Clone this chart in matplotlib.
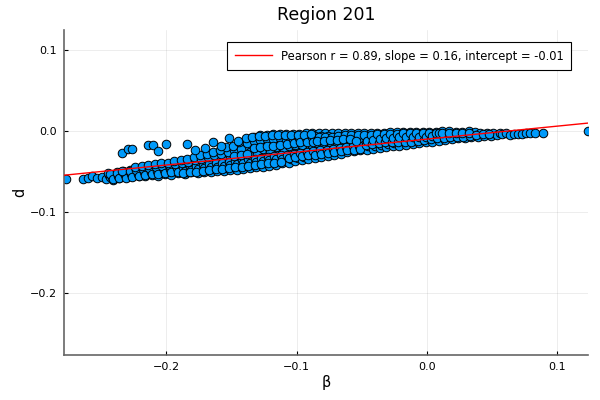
import numpy as np
import matplotlib
matplotlib.use("Agg")
import matplotlib.pyplot as plt

# --- data ---
beta_tail = [-0.2770, -0.264, -0.260, -0.257, -0.253, -0.249]
d_tail = [-0.059, -0.059, -0.058, -0.056, -0.058, -0.057]

beta_out = [-0.234, -0.229, -0.226, -0.214, -0.210, -0.206, -0.200, -0.184,
            -0.170, -0.164, -0.152, -0.158, -0.145, -0.178]
d_out = [-0.027, -0.022, -0.022, -0.017, -0.017, -0.025, -0.016, -0.016,
         -0.021, -0.014, -0.009, -0.019, -0.012, -0.024]

beta_main = [
    -0.246, -0.244, -0.243, -0.245,
    -0.241, -0.239, -0.238, -0.240,
    -0.236, -0.234, -0.233, -0.235,
    -0.231, -0.229, -0.228, -0.230, -0.232,
    -0.226, -0.224, -0.223, -0.225,
    -0.221, -0.219, -0.218, -0.220, -0.222,
    -0.216, -0.214, -0.213, -0.215, -0.217,
    -0.211, -0.209, -0.208, -0.210, -0.212,
    -0.206, -0.204, -0.203, -0.205, -0.207,
    -0.201, -0.199, -0.198, -0.200, -0.202,
    -0.196, -0.194, -0.193, -0.195, -0.197,
    -0.191, -0.189, -0.188, -0.190, -0.192, -0.189,
    -0.186, -0.184, -0.183, -0.185, -0.187, -0.184,
    -0.181, -0.179, -0.178, -0.180, -0.182, -0.179,
    -0.176, -0.174, -0.173, -0.175, -0.177, -0.174,
    -0.171, -0.169, -0.168, -0.170, -0.172, -0.169,
    -0.166, -0.164, -0.163, -0.165, -0.167, -0.164, -0.166,
    -0.161, -0.159, -0.158, -0.160, -0.162, -0.159, -0.161,
    -0.156, -0.154, -0.153, -0.155, -0.157, -0.154, -0.156,
    -0.151, -0.149, -0.148, -0.150, -0.152, -0.149, -0.151,
    -0.146, -0.144, -0.143, -0.145, -0.147, -0.144, -0.146, -0.143,
    -0.141, -0.139, -0.138, -0.140, -0.142, -0.139, -0.141, -0.138,
    -0.136, -0.134, -0.133, -0.135, -0.137, -0.134, -0.136, -0.133, -0.135,
    -0.131, -0.129, -0.128, -0.130, -0.132, -0.129, -0.131, -0.128, -0.130,
    -0.126, -0.124, -0.123, -0.125, -0.127, -0.124, -0.126, -0.123, -0.125,
    -0.121, -0.119, -0.118, -0.120, -0.122, -0.119, -0.121, -0.118, -0.120,
    -0.116, -0.114, -0.113, -0.115, -0.117, -0.114, -0.116, -0.113, -0.115,
    -0.111, -0.109, -0.108, -0.110, -0.112, -0.109, -0.111, -0.108, -0.110,
    -0.106, -0.104, -0.103, -0.105, -0.107, -0.104, -0.106, -0.103,
    -0.101, -0.099, -0.098, -0.100, -0.102, -0.099, -0.101, -0.098,
    -0.096, -0.094, -0.093, -0.095, -0.097, -0.094, -0.096, -0.093,
    -0.091, -0.089, -0.088, -0.090, -0.092, -0.089, -0.091,
    -0.086, -0.084, -0.083, -0.085, -0.087, -0.084, -0.086,
    -0.081, -0.079, -0.078, -0.080, -0.082, -0.079, -0.081,
    -0.076, -0.074, -0.073, -0.075, -0.077, -0.074, -0.076,
    -0.071, -0.069, -0.068, -0.070, -0.072, -0.069,
    -0.066, -0.064, -0.063, -0.065, -0.067, -0.064,
    -0.061, -0.059, -0.058, -0.060, -0.062, -0.059,
    -0.056, -0.054, -0.053, -0.055, -0.057, -0.054,
    -0.051, -0.049, -0.048, -0.050, -0.052,
    -0.046, -0.044, -0.043, -0.045, -0.047,
    -0.041, -0.039, -0.038, -0.040, -0.042,
    -0.036, -0.034, -0.033, -0.035, -0.037,
    -0.031, -0.029, -0.028, -0.030, -0.032,
    -0.026, -0.024, -0.023, -0.025, -0.027,
    -0.021, -0.019, -0.018, -0.020,
    -0.016, -0.014, -0.013, -0.015,
    -0.011, -0.009, -0.008, -0.010,
    -0.006, -0.004, -0.003, -0.005,
    -0.001, 0.001, 0.002, 0.000,
    0.004, 0.006, 0.007, 0.005,
    0.009, 0.011, 0.012,
    0.014, 0.016, 0.017,
    0.019, 0.021, 0.022,
    0.024, 0.026, 0.027,
    0.029, 0.031, 0.032,
    0.034, 0.036, 0.037,
    0.039, 0.041,
    0.044, 0.046,
    0.049, 0.051,
    0.054, 0.056,
]
d_main = [
    -0.059, -0.054, -0.057, -0.052,
    -0.060, -0.055, -0.051, -0.057,
    -0.058, -0.053, -0.049, -0.056,
    -0.057, -0.052, -0.048, -0.055, -0.050,
    -0.056, -0.051, -0.047, -0.054,
    -0.056, -0.050, -0.046, -0.053, -0.048,
    -0.055, -0.049, -0.044, -0.052, -0.047,
    -0.054, -0.048, -0.043, -0.051, -0.046,
    -0.055, -0.047, -0.042, -0.050, -0.045,
    -0.053, -0.046, -0.041, -0.050, -0.044,
    -0.054, -0.045, -0.040, -0.049, -0.043,
    -0.052, -0.044, -0.039, -0.048, -0.042, -0.050,
    -0.053, -0.043, -0.038, -0.047, -0.041, -0.050,
    -0.051, -0.042, -0.036, -0.046, -0.039, -0.049,
    -0.052, -0.041, -0.034, -0.045, -0.037, -0.048,
    -0.050, -0.040, -0.032, -0.044, -0.035, -0.047,
    -0.050, -0.039, -0.030, -0.043, -0.034, -0.046, -0.036,
    -0.049, -0.038, -0.028, -0.042, -0.032, -0.045, -0.035,
    -0.049, -0.037, -0.025, -0.041, -0.030, -0.045, -0.033,
    -0.048, -0.036, -0.022, -0.040, -0.028, -0.044, -0.031,
    -0.048, -0.035, -0.020, -0.039, -0.026, -0.043, -0.030, -0.024,
    -0.047, -0.034, -0.016, -0.038, -0.024, -0.042, -0.028, -0.020,
    -0.046, -0.033, -0.007, -0.037, -0.020, -0.041, -0.026, -0.013, -0.030,
    -0.045, -0.032, -0.005, -0.036, -0.018, -0.040, -0.024, -0.010, -0.028,
    -0.044, -0.031, -0.005, -0.035, -0.017, -0.039, -0.022, -0.009, -0.013,
    -0.043, -0.030, -0.004, -0.034, -0.016, -0.038, -0.021, -0.008, -0.026,
    -0.042, -0.029, -0.004, -0.033, -0.015, -0.037, -0.020, -0.008, -0.011,
    -0.040, -0.028, -0.004, -0.032, -0.014, -0.036, -0.019, -0.007, -0.024,
    -0.039, -0.027, -0.004, -0.031, -0.013, -0.035, -0.018, -0.008,
    -0.037, -0.026, -0.004, -0.030, -0.012, -0.033, -0.017, -0.008,
    -0.036, -0.025, -0.003, -0.029, -0.012, -0.032, -0.017, -0.007,
    -0.034, -0.024, -0.003, -0.028, -0.011, -0.016, -0.007,
    -0.033, -0.023, -0.003, -0.027, -0.010, -0.015, -0.006,
    -0.032, -0.022, -0.003, -0.026, -0.010, -0.015, -0.006,
    -0.031, -0.021, -0.003, -0.025, -0.009, -0.014, -0.006,
    -0.029, -0.020, -0.003, -0.024, -0.009, -0.013,
    -0.028, -0.019, -0.002, -0.023, -0.008, -0.013,
    -0.026, -0.018, -0.002, -0.022, -0.008, -0.012,
    -0.025, -0.017, -0.002, -0.021, -0.007, -0.011,
    -0.024, -0.016, -0.002, -0.020, -0.009,
    -0.023, -0.015, -0.002, -0.019, -0.008,
    -0.022, -0.014, -0.002, -0.018, -0.008,
    -0.021, -0.013, -0.002, -0.017, -0.007,
    -0.020, -0.012, -0.001, -0.016, -0.007,
    -0.019, -0.012, -0.001, -0.015, -0.006,
    -0.018, -0.011, -0.001, -0.006,
    -0.017, -0.010, -0.001, -0.005,
    -0.016, -0.010, -0.001, -0.005,
    -0.015, -0.009, -0.001, -0.005,
    -0.014, -0.008, -0.001, -0.004,
    -0.013, -0.008, -0.001, -0.004,
    -0.012, -0.006, 0.000,
    -0.011, -0.006, 0.000,
    -0.010, -0.005, -0.001,
    -0.009, -0.005, -0.001,
    -0.009, -0.004, 0.000,
    -0.008, -0.004, -0.001,
    -0.007, -0.002,
    -0.006, -0.002,
    -0.006, -0.003,
    -0.005, -0.002,
]

# points lying between the columns above
beta_fill = [
    -0.242, -0.243, -0.241,
    -0.237, -0.238, -0.236,
    -0.232, -0.233, -0.231, -0.234,
    -0.227, -0.228, -0.226,
    -0.222, -0.223, -0.221, -0.224,
    -0.217, -0.218, -0.216, -0.219,
    -0.212, -0.213, -0.211, -0.214,
    -0.207, -0.208, -0.206, -0.209,
    -0.202, -0.203, -0.201, -0.204,
    -0.197, -0.198, -0.196, -0.199,
    -0.192, -0.193, -0.191, -0.194,
    -0.187, -0.188, -0.186, -0.189, -0.187,
    -0.182, -0.183, -0.181, -0.184, -0.182,
    -0.177, -0.178, -0.176, -0.179, -0.177,
    -0.172, -0.173, -0.171, -0.174, -0.172,
    -0.167, -0.168, -0.166, -0.169, -0.167,
    -0.162, -0.163, -0.161, -0.164, -0.162,
    -0.157, -0.158, -0.156, -0.159, -0.157,
    -0.152, -0.153, -0.151, -0.154, -0.152,
    -0.147, -0.148, -0.146, -0.149, -0.147, -0.148,
    -0.142, -0.143, -0.141, -0.144, -0.142, -0.143,
    -0.137, -0.138, -0.136, -0.139, -0.137, -0.138,
    -0.132, -0.133, -0.131, -0.134, -0.132, -0.133,
    -0.127, -0.128, -0.126, -0.129, -0.127, -0.128,
    -0.122, -0.123, -0.121, -0.124, -0.122, -0.123,
    -0.117, -0.118, -0.116, -0.119, -0.117, -0.118,
    -0.112, -0.113, -0.111, -0.114, -0.112, -0.113,
    -0.107, -0.108, -0.106, -0.109, -0.107,
    -0.102, -0.103, -0.101, -0.104, -0.102,
    -0.097, -0.098, -0.096, -0.099, -0.097,
    -0.092, -0.093, -0.091, -0.094, -0.092,
    -0.087, -0.088, -0.086, -0.089, -0.087,
    -0.082, -0.083, -0.081, -0.084,
    -0.077, -0.078, -0.076, -0.079,
    -0.072, -0.073, -0.071, -0.074,
    -0.067, -0.068, -0.066, -0.069,
    -0.062, -0.063, -0.061, -0.064,
    -0.057, -0.058, -0.056, -0.059,
    -0.052, -0.053, -0.051, -0.054,
    -0.047, -0.048, -0.046,
    -0.042, -0.043, -0.041,
    -0.037, -0.038, -0.036,
    -0.032, -0.033, -0.031,
    -0.027, -0.028, -0.026,
    -0.022, -0.023, -0.021,
    -0.017, -0.018, -0.016,
    -0.012, -0.013, -0.011,
    -0.007, -0.008, -0.006,
    -0.002, -0.003, -0.001,
    0.003, 0.002, 0.004,
    0.008, 0.007, 0.009,
    0.013, 0.012,
    0.018, 0.017,
    0.023, 0.022,
    0.028, 0.027,
    0.033, 0.032,
    0.038, 0.043, 0.048,
]
d_fill = [
    -0.0565, -0.0535, -0.059,
    -0.055, -0.0515, -0.0585,
    -0.0545, -0.051, -0.0575, -0.0495,
    -0.0535, -0.0495, -0.0565,
    -0.0525, -0.0485, -0.0555, -0.045,
    -0.051, -0.0465, -0.0545, -0.0435,
    -0.050, -0.0455, -0.0535, -0.0425,
    -0.049, -0.0445, -0.053, -0.041,
    -0.048, -0.0435, -0.0515, -0.040,
    -0.047, -0.042, -0.051, -0.039,
    -0.046, -0.041, -0.050, -0.037,
    -0.045, -0.040, -0.049, -0.036, -0.052,
    -0.044, -0.038, -0.048, -0.034, -0.051,
    -0.043, -0.036, -0.047, -0.032, -0.050,
    -0.042, -0.034, -0.046, -0.030, -0.049,
    -0.041, -0.032, -0.045, -0.028, -0.048,
    -0.040, -0.030, -0.044, -0.026, -0.047,
    -0.039, -0.028, -0.043, -0.023, -0.047,
    -0.038, -0.026, -0.042, -0.020, -0.046,
    -0.037, -0.024, -0.041, -0.018, -0.045, -0.031,
    -0.036, -0.022, -0.040, -0.013, -0.044, -0.030,
    -0.035, -0.015, -0.039, -0.009, -0.043, -0.028,
    -0.034, -0.012, -0.038, -0.007, -0.042, -0.021,
    -0.033, -0.011, -0.037, -0.006, -0.041, -0.020,
    -0.032, -0.010, -0.036, -0.006, -0.040, -0.019,
    -0.031, -0.010, -0.035, -0.005, -0.039, -0.018,
    -0.030, -0.009, -0.034, -0.005, -0.038, -0.017,
    -0.029, -0.010, -0.033, -0.005, -0.016,
    -0.028, -0.010, -0.032, -0.005, -0.015,
    -0.027, -0.009, -0.031, -0.005, -0.014,
    -0.026, -0.009, -0.030, -0.005, -0.014,
    -0.025, -0.008, -0.029, -0.004, -0.013,
    -0.024, -0.008, -0.028, -0.012,
    -0.023, -0.008, -0.027, -0.012,
    -0.022, -0.007, -0.026, -0.011,
    -0.021, -0.006, -0.025, -0.011,
    -0.020, -0.005, -0.024, -0.010,
    -0.019, -0.005, -0.023, -0.010,
    -0.018, -0.005, -0.022, -0.012,
    -0.017, -0.005, -0.012,
    -0.016, -0.005, -0.011,
    -0.015, -0.004, -0.010,
    -0.014, -0.004, -0.009,
    -0.013, -0.004, -0.009,
    -0.014, -0.004, -0.008,
    -0.013, -0.003, -0.008,
    -0.013, -0.003, -0.008,
    -0.012, -0.003, -0.007,
    -0.011, -0.003, -0.007,
    -0.010, -0.002, -0.006,
    -0.009, -0.003, -0.002,
    -0.009, -0.003,
    -0.008, -0.003,
    -0.007, -0.003,
    -0.007, -0.002,
    -0.006, -0.002,
    -0.005, -0.004, -0.004,
]

beta_right = [0.058, 0.061, 0.064, 0.067, 0.070, 0.073, 0.076, 0.079, 0.083, 0.089, 0.1237]
d_right = [-0.004, -0.003, -0.005, -0.004, -0.004, -0.004, -0.003, -0.003, -0.002, -0.002, 0.000]

pearson_r = 0.89
slope = 0.16
intercept = -0.01

beta = np.array(beta_tail + beta_main + beta_fill + beta_out + beta_right)
d = np.array(d_tail + d_main + d_fill + d_out + d_right)

xlim = (-0.2785, 0.1237)
ylim = (-0.2765, 0.1247)

fig = plt.figure(figsize=(6, 4), dpi=100)
ax = fig.add_axes([64 / 600, 1 - 355 / 400, 524 / 600, 325 / 400])

ax.scatter(beta, d, s=38, color="#009AFA", edgecolors="black", linewidths=0.7, zorder=2)
xs = np.array(xlim)
ax.plot(xs, slope * xs + intercept, color="red", lw=1.0, zorder=3,
        label=f"Pearson r = {pearson_r:.2f}, slope = {slope:.2f}, intercept = {intercept:.2f}")

ax.set_xlim(*xlim)
ax.set_ylim(*ylim)
ax.set_xticks([-0.2, -0.1, 0.0, 0.1])
ax.set_yticks([-0.2, -0.1, 0.0, 0.1])
ax.grid(True, color="black", alpha=0.1, lw=0.5)
ax.set_axisbelow(True)
for side in ["top", "right"]:
    ax.spines[side].set_visible(False)
for side in ["left", "bottom"]:
    ax.spines[side].set_color("0.4")
    ax.spines[side].set_linewidth(1.2)
ax.tick_params(direction="in", length=3, width=0.8, labelsize=8, pad=5)

ax.set_title("Region 201", fontsize=12.5, pad=7)
ax.set_xlabel("β", fontsize=10.5, labelpad=2)
ax.set_ylabel("d", fontsize=10.5, labelpad=2)

leg = ax.legend(loc="upper right", bbox_to_anchor=(0.968, 0.963), fontsize=8.3,
                frameon=True, fancybox=False, edgecolor="black", framealpha=1,
                handlelength=3.2, borderpad=0.65, borderaxespad=0)
leg.get_frame().set_linewidth(0.8)

fig.savefig("out.png", dpi=100)
